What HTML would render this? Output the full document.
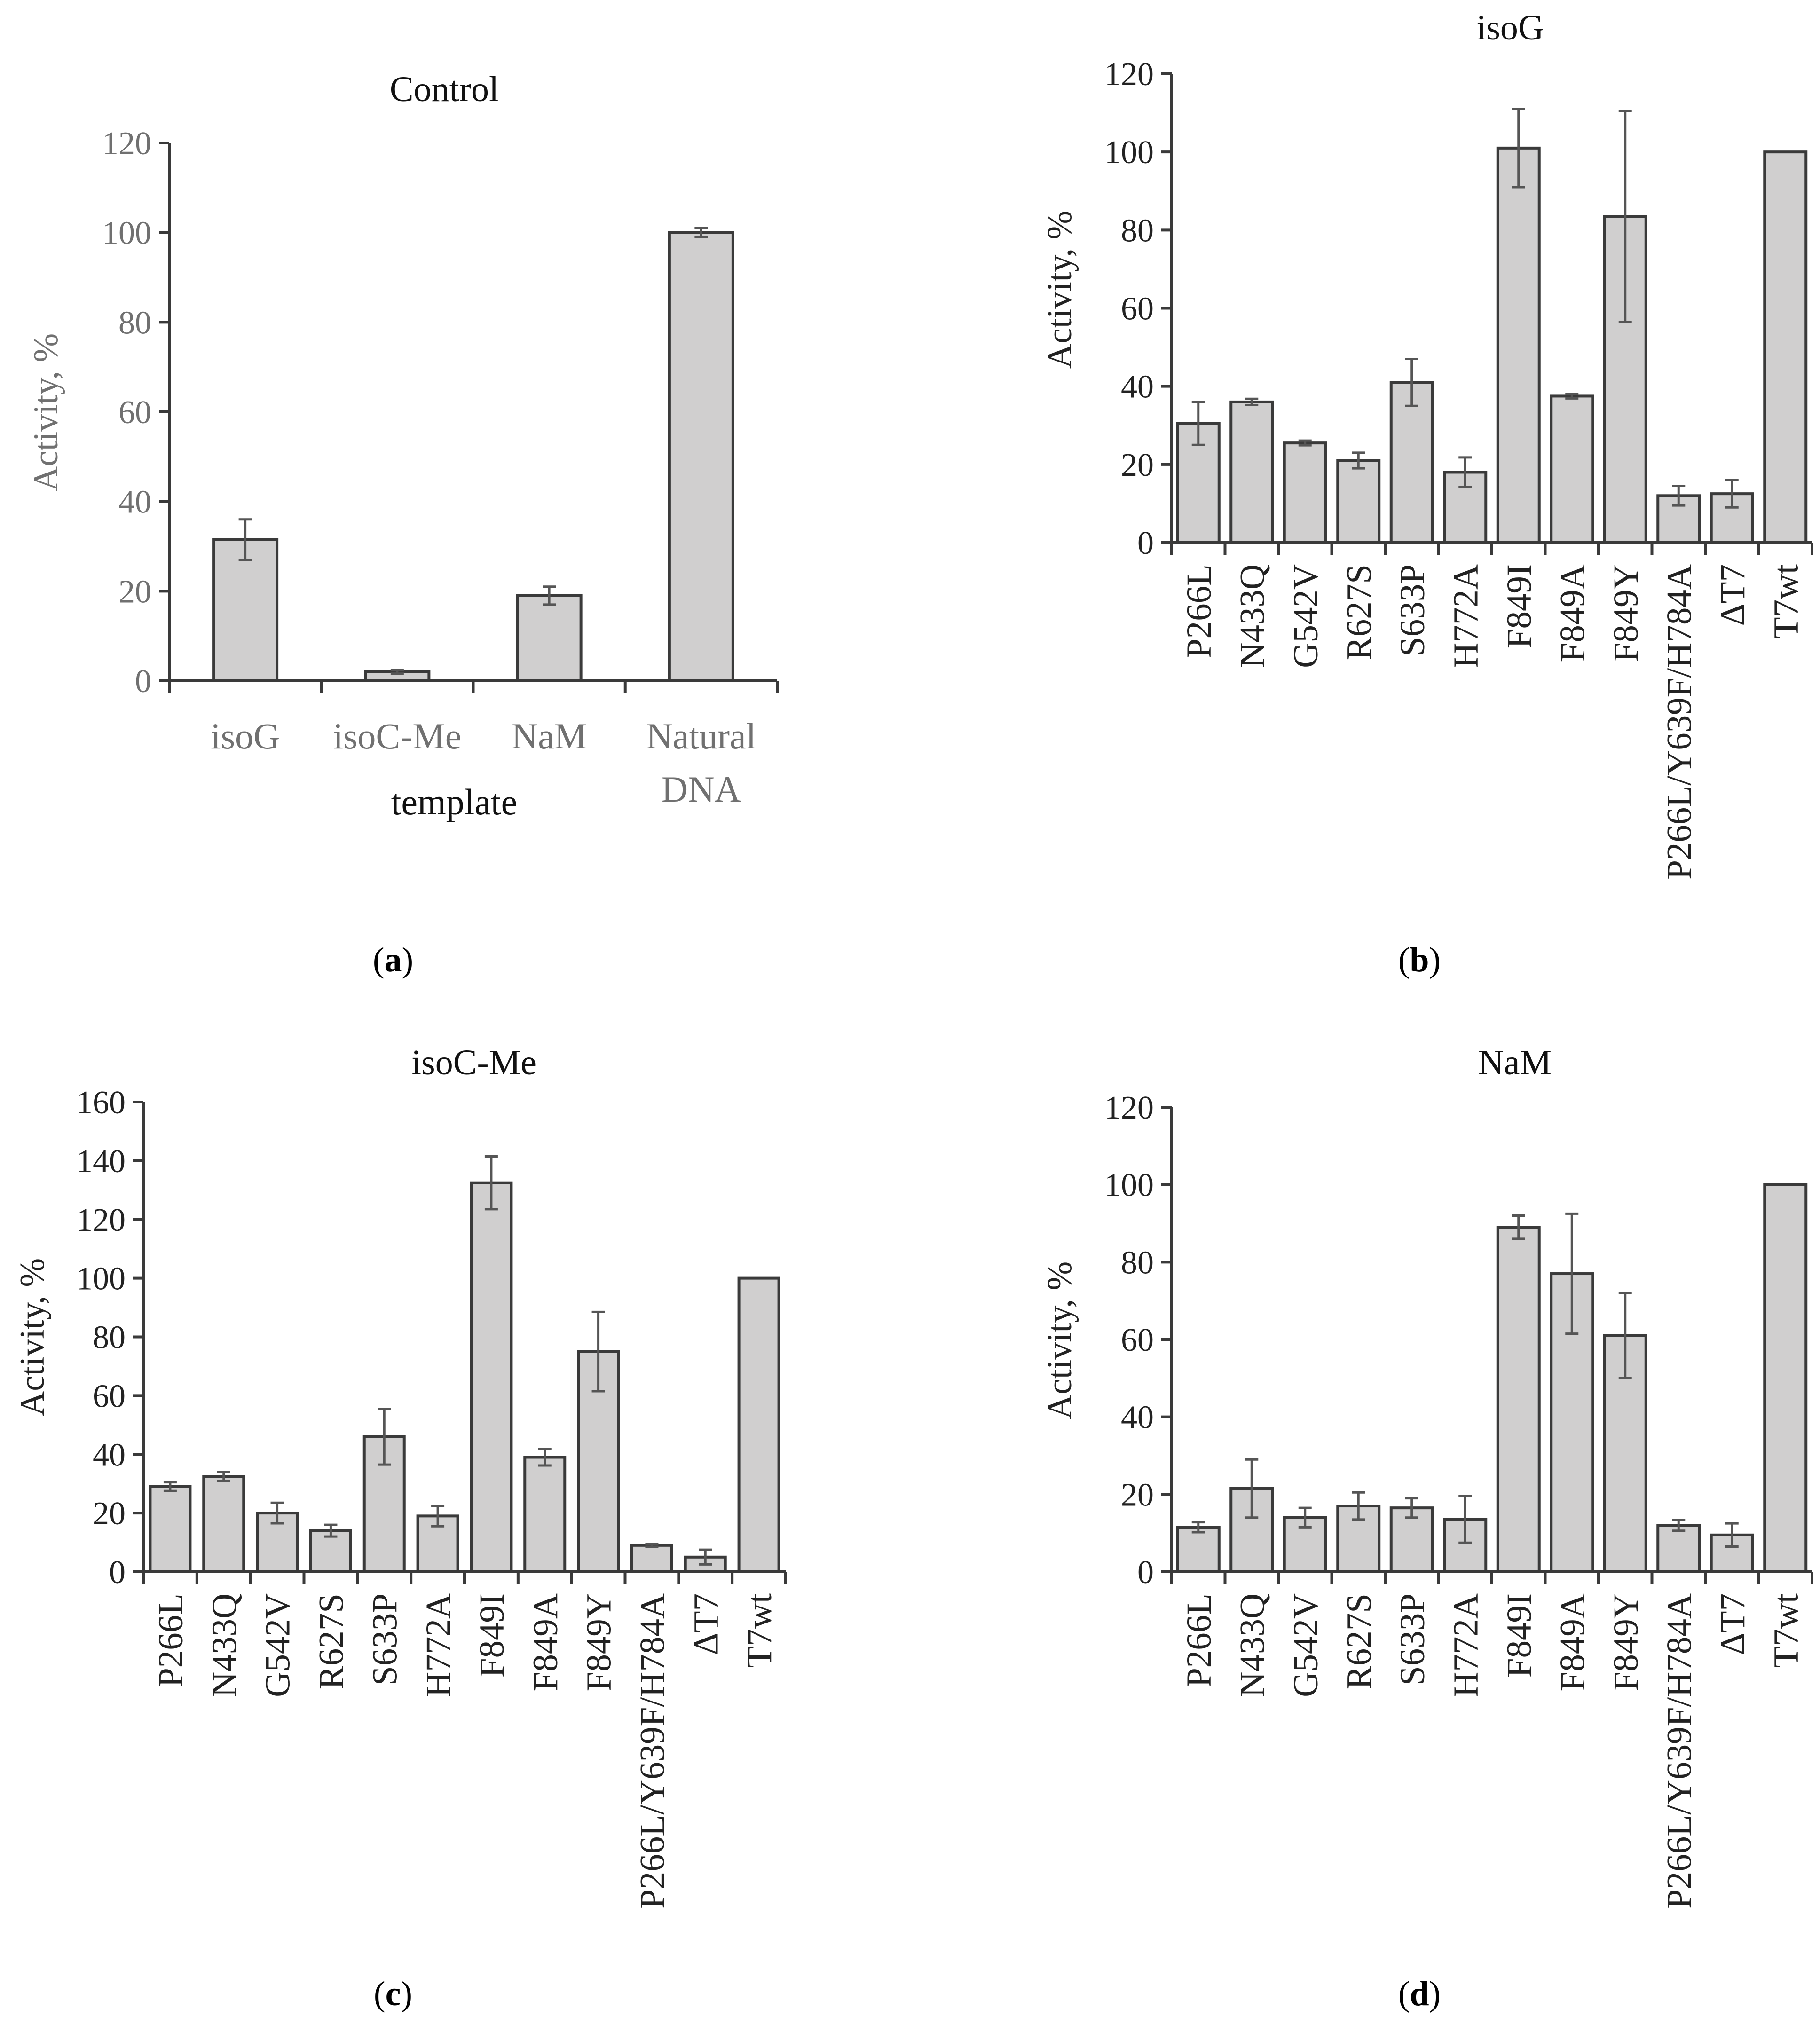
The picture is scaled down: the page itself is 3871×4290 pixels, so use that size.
<!DOCTYPE html>
<html><head><meta charset="utf-8"><style>
html,body{margin:0;padding:0;background:#fff}
svg{display:block}
text{font-family:"Liberation Serif",serif}
</style></head><body>
<svg id="fig" width="3871" height="4290" viewBox="0 0 3871 4290" xmlns="http://www.w3.org/2000/svg">
<rect width="3871" height="4290" fill="#fff"/>
</svg>
<script>
const catsA = ["isoG","isoC-Me","NaM","Natural|DNA"];
const valsA = [31.5,2,19,100];
const errA = [4.5,0.4,2,1];
const ticksA = [0,20,40,60,80,100,120];

const mutants = ["P266L","N433Q","G542V","R627S","S633P","H772A","F849I","F849A","F849Y","P266L/Y639F/H784A","\u0394T7","T7wt"];
const valsB = [30.5,36,25.5,21,41,18,101,37.5,83.5,12,12.5,100];
const errB = [5.5,0.8,0.6,2,6,3.8,10,0.6,27,2.5,3.5,0];
const ticksB = [0,20,40,60,80,100,120];
const valsC = [29,32.5,20,14,46,19,132.5,39,75,9,5,100];
const errC = [1.5,1.5,3.5,2,9.5,3.5,9,2.8,13.5,0.5,2.5,0];
const ticksC = [0,20,40,60,80,100,120,140,160];
const valsD = [11.5,21.5,14,17,16.5,13.5,89,77,61,12,9.5,100];
const errD = [1.3,7.5,2.5,3.5,2.5,6,3,15.5,11,1.4,3,0];
const ticksD = [0,20,40,60,80,100,120];

const svg = document.getElementById('fig');
const NS = "http://www.w3.org/2000/svg";
function mk(tag, attrs, parent){const e=document.createElementNS(NS,tag);for(const k in attrs)e.setAttribute(k,attrs[k]);(parent||svg).appendChild(e);return e;}

function panel(cfg){
  const g = mk('g',{});
  
  
  const x0=cfg.x0,x1=cfg.x1,y0=cfg.y0,yTop=cfg.yTop,max=cfg.ticks[cfg.ticks.length-1];
  const ys = v => y0 - (v/max)*(y0-yTop);
  const n = cfg.cats.length, cw=(x1-x0)/n;
  const xs = i => x0 + cw*(i+0.5);
  const tc = cfg.tickColor;
  cfg.vals.forEach((v,i)=>{
    const r = mk('rect',{x:xs(i)-cfg.bw/2,y:ys(v),width:cfg.bw,height:y0-ys(v),fill:"#d0cfcf",stroke:"#3a3a3a","stroke-width":6},g);
    
    
    const e = cfg.errs[i];
    if(e>0){
      const eb = mk('path',{d:`M${xs(i)} ${ys(v+e)}V${ys(v-e)}M${xs(i)-14} ${ys(v+e)}H${xs(i)+14}M${xs(i)-14} ${ys(v-e)}H${xs(i)+14}`,stroke:"#555",fill:"none","stroke-width":5},g);
      
      
    }
  });
  const ax = mk('path',{d:`M${x0} ${yTop}V${y0}H${x1}`,stroke:"#3a3a3a",fill:"none","stroke-width":6},g);
  
  
  cfg.ticks.forEach(t=>{
    mk('line',{x1:x0-22,x2:x0,y1:ys(t),y2:ys(t),stroke:"#3a3a3a","stroke-width":6},g);
    const tl = mk('text',{x:x0-38,y:ys(t)+24,"text-anchor":"end","font-size":70,fill:tc},g);
    tl.textContent=t;
    
    
  });
  for(let i=0;i<=n;i++){
    mk('line',{x1:x0+cw*i,x2:x0+cw*i,y1:y0,y2:y0+26,stroke:"#3a3a3a","stroke-width":6},g);
  }
  cfg.cats.forEach((c,i)=>{
    if(cfg.rotate){
      const t = mk('text',{x:0,y:0,"text-anchor":"end","font-size":75,fill:"#222",transform:`translate(${xs(i)+26},${y0+46}) rotate(-90)`},g);
      t.textContent=c;
      
      
    } else {
      c.split('|').forEach((p,k)=>{
        const t = mk('text',{x:xs(i),y:cfg.labY+k*113,"text-anchor":"middle","font-size":78,fill:tc},g);
        t.textContent=p;
        
        
      });
    }
  });
  const yl = mk('text',{x:0,y:0,"text-anchor":"middle","font-size":74,fill:tc,transform:`translate(${cfg.ylx},${cfg.yly}) rotate(-90)`},g);
  yl.textContent="Activity, %";
  
  
  const ti = mk('text',{x:cfg.tx,y:cfg.ty,"text-anchor":"middle","font-size":76,fill:"#111"},g);
  ti.textContent=cfg.title;
  
  
  const pl = mk('text',{x:cfg.px,y:cfg.py,"text-anchor":"middle","font-size":74,fill:"#000"},g);
  pl.innerHTML='(<tspan font-weight="bold">'+cfg.letter+'</tspan>)';
  
  
  return g;
}

panel({name:'panel-a-control',cats:catsA,vals:valsA,errs:errA,ticks:ticksA,x0:360,x1:1653,y0:1448,yTop:304,bw:135,
  tickColor:"#707070",rotate:false,labY:1592,ylx:122,yly:877,title:"Control",tx:945,ty:215,letter:"a",px:836,py:2066});
const xl = mk('text',{x:966,y:1732,"text-anchor":"middle","font-size":78,fill:"#111"});
xl.textContent="template";


panel({name:'panel-b-isog',cats:mutants,vals:valsB,errs:errB,ticks:ticksB,x0:2492,x1:3854,y0:1154,yTop:157,bw:88,
  tickColor:"#222",rotate:true,ylx:2278,yly:616,title:"isoG",tx:3212,ty:84,letter:"b",px:3019,py:2066});
panel({name:'panel-c-isoc-me',cats:mutants,vals:valsC,errs:errC,ticks:ticksC,x0:305,x1:1671,y0:3343,yTop:2344,bw:85,
  tickColor:"#222",rotate:true,ylx:93,yly:2844,title:"isoC-Me",tx:1008,ty:2285,letter:"c",px:836,py:4265});
panel({name:'panel-d-nam',cats:mutants,vals:valsD,errs:errD,ticks:ticksD,x0:2492,x1:3854,y0:3343,yTop:2355,bw:88,
  tickColor:"#222",rotate:true,ylx:2278,yly:2851,title:"NaM",tx:3222,ty:2285,letter:"d",px:3019,py:4265});
</script>
</body></html>
